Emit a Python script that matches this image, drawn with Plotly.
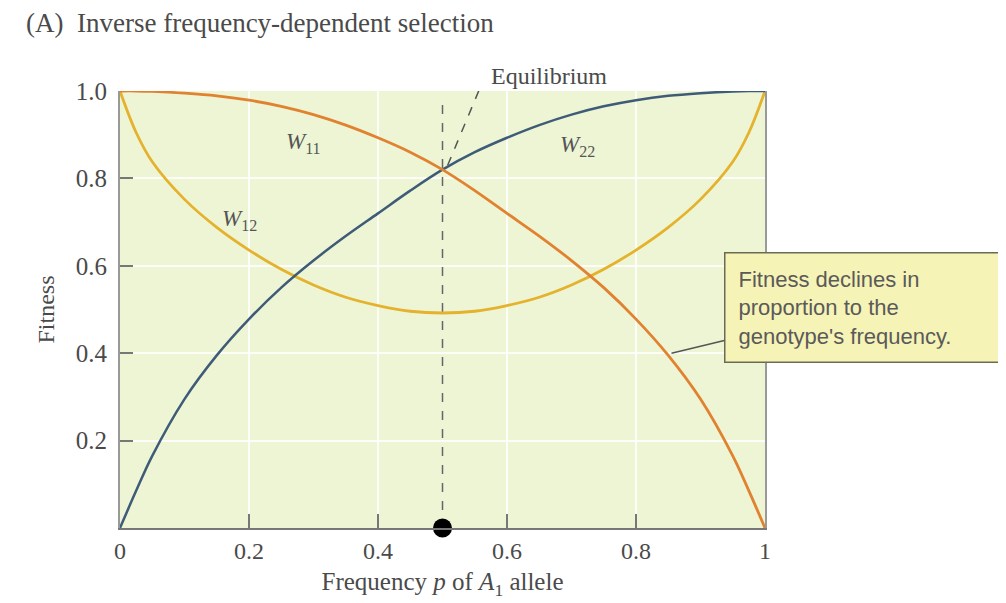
import plotly.graph_objects as go

# allele frequency p and the three genotype fitnesses
p = [0, 0.025, 0.05, 0.1, 0.15, 0.2, 0.25, 0.3, 0.35, 0.4, 0.45, 0.5,
     0.55, 0.6, 0.65, 0.7, 0.75, 0.8, 0.85, 0.9, 0.95, 0.975, 1.0]
w22 = [0.0, 0.085, 0.165, 0.295, 0.395, 0.478, 0.55, 0.612, 0.668, 0.72, 0.772, 0.82,
       0.86, 0.893, 0.922, 0.946, 0.965, 0.979, 0.989, 0.995, 0.999, 1.0, 1.0]
w11 = [1.0, 1.0, 0.999, 0.995, 0.989, 0.979, 0.965, 0.946, 0.922, 0.893, 0.86, 0.82,
       0.772, 0.72, 0.668, 0.612, 0.55, 0.478, 0.395, 0.295, 0.165, 0.085, 0.0]
w12 = [1.0, 0.905, 0.838, 0.752, 0.688, 0.636, 0.592, 0.556, 0.528, 0.509, 0.496, 0.492,
       0.496, 0.509, 0.528, 0.556, 0.592, 0.636, 0.688, 0.752, 0.838, 0.905, 1.0]

p_eq, w_eq = 0.5, 0.82
eq_label = (0.572, 1.035)
callout_target = (0.855, 0.40)
callout_box = (1.152, 0.505)

x_ticks = [0, 0.2, 0.4, 0.6, 0.8, 1]
x_ticktext = ["0", "0.2", "0.4", "0.6", "0.8", "1"]
y_ticks = [0.2, 0.4, 0.6, 0.8, 1.0]
y_ticktext = ["0.2", "0.4", "0.6", "0.8", "1.0"]

SERIF = "Liberation Serif, Times New Roman, serif"
SANS = "Liberation Sans, Arial, sans-serif"
TXT = "#4a4a4a"

fig = go.Figure()

# equilibrium dashed line + leader to label
fig.add_trace(go.Scatter(x=[p_eq, p_eq], y=[0, 0.985], mode="lines",
                         line=dict(color="#666", width=1.5, dash="dash"),
                         hoverinfo="skip", cliponaxis=False))
fig.add_trace(go.Scatter(x=[p_eq + 0.008, eq_label[0] - 0.006], y=[w_eq + 0.01, eq_label[1]],
                         mode="lines", line=dict(color="#555", width=1.5, dash="dash"),
                         hoverinfo="skip", cliponaxis=False))

fig.add_trace(go.Scatter(x=p, y=w12, mode="lines", line=dict(color="#e4b22c", width=2.8, shape="spline"),
                         name="W12", cliponaxis=False))
fig.add_trace(go.Scatter(x=p, y=w22, mode="lines", line=dict(color="#3e5c78", width=2.5, shape="spline"),
                         name="W22", cliponaxis=False))
fig.add_trace(go.Scatter(x=p, y=w11, mode="lines", line=dict(color="#e0822f", width=2.8, shape="spline"),
                         name="W11", cliponaxis=False))

fig.add_trace(go.Scatter(x=[p_eq], y=[0], mode="markers", marker=dict(color="black", size=19),
                         cliponaxis=False, hoverinfo="skip"))

# curve labels
for txt, x, y in [("<i>W</i><sub>11</sub>", 0.285, 0.88),
                  ("<i>W</i><sub>12</sub>", 0.185, 0.705),
                  ("<i>W</i><sub>22</sub>", 0.71, 0.875)]:
    fig.add_annotation(x=x, y=y, text=txt, showarrow=False,
                       font=dict(family=SERIF, size=23, color="#555"))

fig.add_annotation(x=eq_label[0], y=eq_label[1], yref="paper", text="Equilibrium", showarrow=False,
                   xanchor="left", yanchor="middle", font=dict(family=SERIF, size=24, color=TXT))

fig.add_annotation(x=callout_target[0], y=callout_target[1],
                   ax=callout_box[0], ay=callout_box[1], axref="x", ayref="y",
                   text="Fitness declines in<br>proportion to the<br>genotype's frequency.",
                   align="left", width=250, showarrow=True, arrowhead=0, arrowwidth=1.5, arrowcolor="#555",
                   bgcolor="#f6f3b6", bordercolor="#6a6a55", borderwidth=1.5, borderpad=13,
                   font=dict(family=SANS, size=22, color="#5a5a5a"))

fig.add_annotation(x=0, y=1.0, xref="paper", yref="paper", xshift=-96, yshift=68,
                   text="(A)  Inverse frequency-dependent selection", showarrow=False,
                   xanchor="left", yanchor="middle", font=dict(family=SERIF, size=27, color=TXT))

fig.update_layout(
    width=1006, height=603,
    margin=dict(l=112, r=249, t=83, b=83),
    paper_bgcolor="white", plot_bgcolor="#eef5d5",
    showlegend=False,
)
fig.update_xaxes(range=[0, 1], tickvals=x_ticks, ticktext=x_ticktext,
                 showgrid=True, gridcolor="rgba(255,255,255,0.8)", gridwidth=2,
                 showline=True, linecolor="#777", linewidth=2,
                 ticks="inside", ticklen=14, tickcolor="#777", tickwidth=1.5,
                 zeroline=False, tickfont=dict(family=SERIF, size=24, color=TXT),
                 title=dict(text="Frequency <i>p</i> of <i>A</i><sub>1</sub> allele",
                            font=dict(family=SERIF, size=25, color=TXT), standoff=10))
fig.update_yaxes(range=[0, 1], tickvals=y_ticks, ticktext=y_ticktext,
                 showgrid=True, gridcolor="rgba(255,255,255,0.8)", gridwidth=2,
                 showline=True, linecolor="#999", linewidth=2, mirror=True,
                 ticks="inside", ticklen=13, tickcolor="#777", tickwidth=1.5,
                 zeroline=False, tickfont=dict(family=SERIF, size=25, color=TXT),
                 ticklabelstandoff=6,
                 title=dict(text="Fitness", font=dict(family=SERIF, size=24, color=TXT), standoff=14))

fig.write_html("out.html")
